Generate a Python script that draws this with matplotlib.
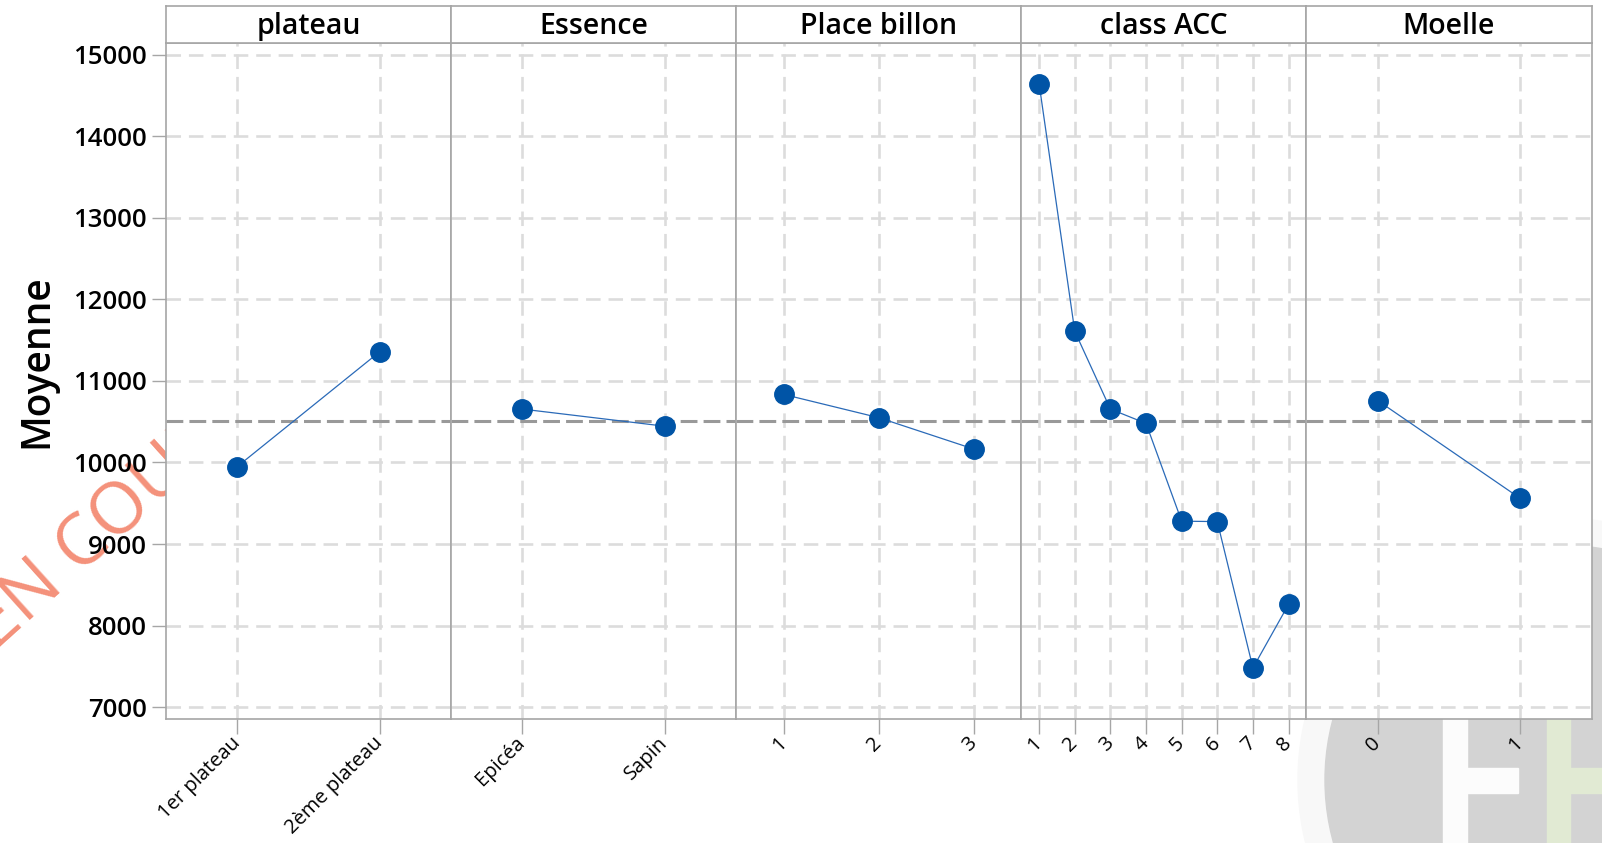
import matplotlib
matplotlib.use("Agg")
import matplotlib.pyplot as plt
import matplotlib.patches as mpatches
import numpy as np

plt.rcParams['font.family'] = ['Open Sans', 'DejaVu Sans']

# factor means
plateau_levels = ['1er plateau', '2ème plateau']
plateau_means = [9950, 11360]
essence_levels = ['Epicéa', 'Sapin']
essence_means = [10655, 10445]
billon_levels = ['1', '2', '3']
billon_means = [10835, 10550, 10165]
acc_levels = ['1', '2', '3', '4', '5', '6', '7', '8']
acc_means = [14645, 11610, 10655, 10480, 9280, 9275, 7480, 8260]
moelle_levels = ['0', '1']
moelle_means = [10760, 9560]
grand_mean = 10510

factors = ['plateau', 'Essence', 'Place billon', 'class ACC', 'Moelle']
levels = [plateau_levels, essence_levels, billon_levels, acc_levels, moelle_levels]
means = [plateau_means, essence_means, billon_means, acc_means, moelle_means]
yticks = [7000, 8000, 9000, 10000, 11000, 12000, 13000, 14000, 15000]

W, H = 1602, 843
fig = plt.figure(figsize=(W / 100, H / 100), dpi=100)

# background decorations (watermark + logo), drawn behind the panels
fig.text(-4 / W, 1 - 652 / H, 'EN COURS', rotation=42, rotation_mode='anchor',
         color='#f4917a', fontsize=52, ha='left', va='baseline', zorder=-5)
fig.patches.append(mpatches.Ellipse((1560 / W, 1 - 780 / H), 2 * 262 / W, 2 * 262 / H,
                                    transform=fig.transFigure, color='#f8f8f8', zorder=-10))
fig.patches.append(mpatches.Ellipse((1560 / W, 1 - 780 / H), 2 * 235 / W, 2 * 235 / H,
                                    transform=fig.transFigure, color='#d3d3d3', zorder=-9))
for x0, y0, w, h, c in [(1443, 700, 24, 143, '#fcfcfc'), (1467, 768, 51, 25, '#fcfcfc'),
                        (1547, 660, 23, 183, '#e1ead3'), (1570, 768, 32, 25, '#e1ead3')]:
    fig.patches.append(mpatches.Rectangle((x0 / W, 1 - (y0 + h) / H), w / W, h / H,
                                          transform=fig.transFigure, color=c, zorder=-8))

left, right = 166 / W, 1591.5 / W
bottom, top = 1 - 719 / H, 1 - 43.3 / H
strip_top = 1 - 5.7 / H

axes = fig.subplots(1, 5, sharey=True, gridspec_kw=dict(wspace=0))
fig.subplots_adjust(left=left, right=right, bottom=bottom, top=top)

spine_c = '#a6a6a6'
for i, ax in enumerate(axes):
    x = np.arange(1, len(levels[i]) + 1)
    ax.set_facecolor('white')
    ax.axhline(grand_mean, color='#999999', lw=2.2, dashes=(5.5, 2), zorder=2)
    ax.plot(x, means[i], '-', color='#2a6ab8', lw=0.9, zorder=3)
    ax.plot(x, means[i], 'o', color='#0054a6', ms=14, zorder=4)
    ax.set_xlim(0.5, len(x) + 0.5)
    ax.set_ylim(6853, 15143)
    ax.set_xticks(x)
    ax.set_xticklabels(levels[i], rotation=45, ha='right', va='center',
                       rotation_mode='anchor', fontsize=14.5, fontweight=500, color='black')
    ax.set_yticks(yticks)
    ax.grid(True, color='#dcdcdc', lw=1.9, dashes=(5.5, 3))
    ax.set_axisbelow(True)
    for s in ax.spines.values():
        s.set_color(spine_c)
        s.set_linewidth(1.2)
    ax.tick_params(axis='x', length=11, width=1, color=spine_c, pad=4)
    if i == 0:
        ax.tick_params(axis='y', length=10, width=1, color=spine_c, labelsize=18.5, pad=4)
        for t in ax.get_yticklabels():
            t.set_fontweight('semibold')
    else:
        ax.tick_params(axis='y', length=0)

    pos = ax.get_position()
    sax = fig.add_axes([pos.x0, top, pos.width, strip_top - top])
    sax.set_xticks([])
    sax.set_yticks([])
    for s in sax.spines.values():
        s.set_color(spine_c)
        s.set_linewidth(1.2)
    sax.text(0.5, 0.45, factors[i], ha='center', va='center', fontsize=20.5,
             fontweight='semibold', transform=sax.transAxes)

axes[0].set_ylabel('Moyenne', fontsize=28, fontweight='semibold', va='center')
axes[0].yaxis.set_label_coords(-0.45, 0.53)

fig.savefig('out.png', dpi=100)
